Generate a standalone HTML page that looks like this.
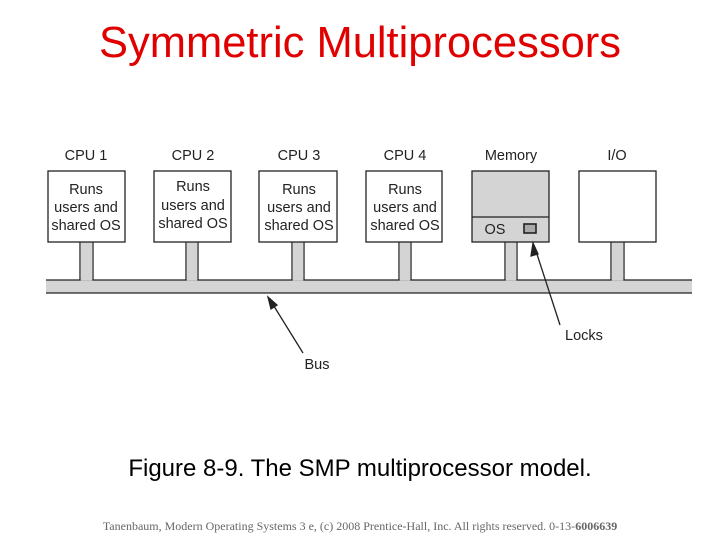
<!DOCTYPE html>
<html><head><style>
body{margin:0;width:720px;height:540px;background:#fff;position:relative;overflow:hidden;font-family:"Liberation Sans",sans-serif}
.t{position:absolute;white-space:nowrap}
</style></head><body>
<div class="t" style="left:0;width:720px;top:19px;text-align:center;font-size:43.5px;color:#e00000;">Symmetric Multiprocessors</div>
<svg width="720" height="540" style="position:absolute;left:0;top:0" font-family="Liberation Sans, sans-serif">
<rect x="46" y="280" width="646" height="13" fill="#d4d4d4"/>
<line x1="46" y1="293" x2="692" y2="293" stroke="#222" stroke-width="1.3"/>
<line x1="46" y1="280" x2="692" y2="280" stroke="#222" stroke-width="1.3"/>
<g fill="#d4d4d4" stroke="#222" stroke-width="1.3">
<path d="M80 242V280M93 242V280" />
<rect x="80.7" y="242" width="11.6" height="38.5" stroke="none"/>
<path d="M186 242V280M198 242V280"/><rect x="186.7" y="242" width="10.6" height="38.5" stroke="none"/>
<path d="M292 242V280M304 242V280"/><rect x="292.7" y="242" width="10.6" height="38.5" stroke="none"/>
<path d="M399 242V280M411 242V280"/><rect x="399.7" y="242" width="10.6" height="38.5" stroke="none"/>
<path d="M505 242V280M517 242V280"/><rect x="505.7" y="242" width="10.6" height="38.5" stroke="none"/>
<path d="M611 242V280M624 242V280"/><rect x="611.7" y="242" width="11.6" height="38.5" stroke="none"/>
</g>
<g fill="#fff" stroke="#222" stroke-width="1.3">
<rect x="48" y="171" width="77" height="71"/>
<rect x="154" y="171" width="77" height="71"/>
<rect x="259" y="171" width="78" height="71"/>
<rect x="366" y="171" width="76" height="71"/>
<rect x="472" y="171" width="77" height="71" fill="#d4d4d4"/>
<line x1="472" y1="217" x2="549" y2="217"/>
<rect x="524" y="224" width="12" height="9" fill="#aaa" stroke-width="1.6"/>
<rect x="579" y="171" width="77" height="71"/>
</g>
<g font-size="14.5" fill="#222" text-anchor="middle">
<text x="86" y="160">CPU 1</text><text x="193" y="160">CPU 2</text><text x="299" y="160">CPU 3</text><text x="405" y="160">CPU 4</text>
<text x="511" y="160">Memory</text><text x="617" y="160">I/O</text>
<text x="86" y="194">Runs</text><text x="86" y="212">users and</text><text x="86" y="230">shared OS</text>
<text x="193" y="191">Runs</text><text x="193" y="210">users and</text><text x="193" y="228">shared OS</text>
<text x="299" y="194">Runs</text><text x="299" y="212">users and</text><text x="299" y="230">shared OS</text>
<text x="405" y="194">Runs</text><text x="405" y="212">users and</text><text x="405" y="230">shared OS</text>
<text x="495" y="234">OS</text>
<text x="584" y="340">Locks</text>
<text x="317" y="369">Bus</text>
</g>
<g stroke="#222" stroke-width="1.3" fill="#222">
<line x1="560" y1="325" x2="535" y2="248"/>
<path d="M533 243 L531 256 L538 254 Z"/>
<line x1="303" y1="353" x2="272" y2="303"/>
<path d="M268 297 L271 309 L277 305 Z"/>
</g>
</svg>
<div class="t" style="left:0;width:720px;top:455px;text-align:center;font-size:24px;color:#000;">Figure 8-9. The SMP multiprocessor model.</div>
<div class="t" style="left:0;width:720px;top:519px;text-align:center;font-family:'Liberation Serif',serif;font-size:12px;color:#666;">Tanenbaum, Modern Operating Systems 3 e, (c) 2008 Prentice-Hall, Inc. All rights reserved. 0-13-<b>6006639</b></div>
</body></html>
